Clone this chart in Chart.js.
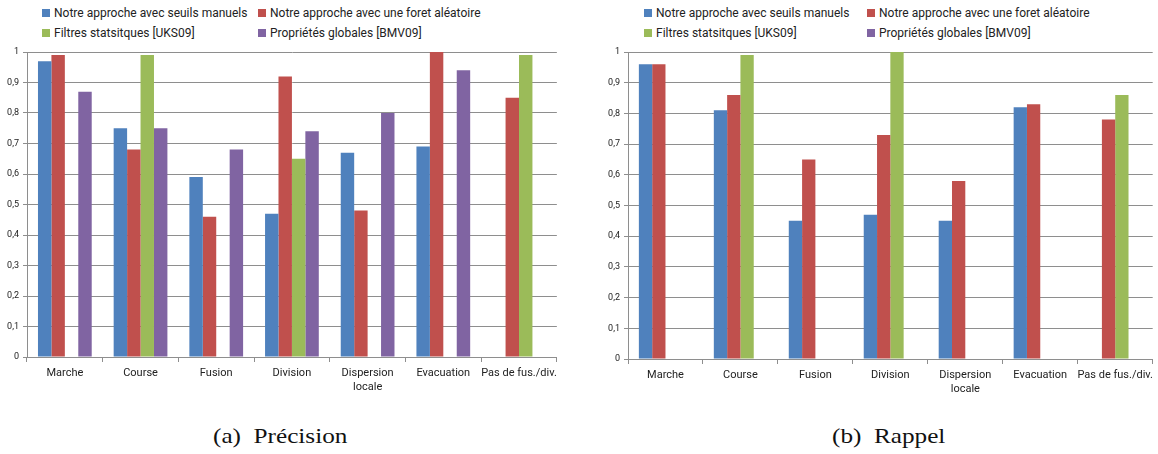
<!DOCTYPE html>
<html>
<head>
<meta charset="utf-8">
<script src="https://cdn.jsdelivr.net/npm/chart.js"></script>
<style>
  body { margin: 0; background: #fff; width: 1158px; height: 454px; position: relative; overflow: hidden; font-family: Roboto, sans-serif; }
  .box { position: absolute; }
  .legend { position: absolute; font-size: 12px; color: #222; }
  .item { position: absolute; white-space: nowrap; line-height: 14px; }
  .item span { display: inline-block; width: 8px; height: 8px; margin-right: 4px; vertical-align: 0px; }
  .caption { position: absolute; top: 424px; font-family: "Times New Roman", "Liberation Serif", Times, serif; font-size: 21px; color: #111; transform: scaleX(1.2); transform-origin: left top; white-space: nowrap; }
</style>
</head>
<body>
<div class="legend" id="legA"></div>
<div class="legend" id="legB"></div>
<div class="box" style="left:0px;top:40px;"><canvas id="chartA" width="562" height="360"></canvas></div>
<div class="box" style="left:590px;top:40px;"><canvas id="chartB" width="568" height="360"></canvas></div>
<div class="caption" style="left:213px;">(a)&nbsp; Précision</div>
<div class="caption" style="left:832px;">(b)&nbsp; Rappel</div>
<script>
// categories
const categories = ['Marche', 'Course', 'Fusion', 'Division', ['Dispersion', 'locale'], 'Evacuation', 'Pas de fus./div.'];
const seriesLabels = [
  'Notre approche avec seuils manuels',
  'Notre approche avec une foret aléatoire',
  'Filtres statsitques [UKS09]',
  'Propriétés globales [BMV09]'
];
const colors = ['#4F81BD', '#C0504D', '#9BBB59', '#8064A2'];

// (a) Précision
const precManuels = [0.97, 0.75, 0.59, 0.47, 0.67, 0.69, null];
const precForet   = [0.99, 0.68, 0.46, 0.92, 0.48, 1.00, 0.85];
const precUKS     = [null, 0.99, null, 0.65, null, null, 0.99];
const precBMV     = [0.87, 0.75, 0.68, 0.74, 0.80, 0.94, null];

// (b) Rappel
const rapManuels = [0.96, 0.81, 0.45, 0.47, 0.45, 0.82, null];
const rapForet   = [0.96, 0.86, 0.65, 0.73, 0.58, 0.83, 0.78];
const rapUKS     = [null, 0.99, null, 1.00, null, null, 0.86];
const rapBMV     = [null, null, null, null, null, null, null];

const yTicks = [0, 0.1, 0.2, 0.3, 0.4, 0.5, 0.6, 0.7, 0.8, 0.9, 1];

function legend(id, x1, x2) {
  const el = document.getElementById(id);
  const pos = [[x1, 6], [x2, 6], [x1, 26], [x2, 26]];
  seriesLabels.forEach((l, i) => {
    const d = document.createElement('div');
    d.className = 'item';
    d.style.left = pos[i][0] + 'px';
    d.style.top = pos[i][1] + 'px';
    d.innerHTML = '<span style="background:' + colors[i] + '"></span>' + l;
    el.appendChild(d);
  });
}
legend('legA', 42, 258);
legend('legB', 644, 867);

function makeChart(id, series, yWidth, xHeight, padTop, padRight) {
  const gridCol = '#8e8e8e';
  return new Chart(document.getElementById(id), {
    type: 'bar',
    data: {
      labels: categories,
      datasets: series.map((s, i) => ({
        label: seriesLabels[i],
        data: s,
        backgroundColor: colors[i],
        borderWidth: 0,
        categoryPercentage: 0.71,
        barPercentage: 1
      }))
    },
    options: {
      responsive: false,
      devicePixelRatio: 1,
      animation: false,
      layout: { padding: { top: padTop, right: padRight, left: 0, bottom: 0 } },
      plugins: { legend: { display: false }, tooltip: { enabled: false } },
      scales: {
        x: {
          grid: { drawOnChartArea: false, offset: true, tickLength: 5, color: gridCol },
          border: { color: gridCol },
          ticks: { font: { family: 'Roboto', size: 11 }, color: '#222', padding: 5, maxRotation: 0, autoSkip: false },
          afterFit: (s) => { s.height = xHeight; }
        },
        y: {
          min: 0, max: 1,
          afterBuildTicks: (s) => { s.ticks = yTicks.map(v => ({ value: v })); },
          grid: { color: gridCol, tickLength: 4 },
          border: { color: gridCol },
          ticks: {
            font: { family: 'Roboto', size: 9 }, color: '#222', padding: 4,
            callback: (v) => String(Math.round(v * 10) / 10).replace('.', ',')
          },
          afterFit: (s) => { s.width = yWidth; }
        }
      }
    }
  });
}

makeChart('chartA', [precManuels, precForet, precUKS, precBMV], 27, 43, 12, 3);
makeChart('chartB', [rapManuels, rapForet, rapUKS, rapBMV], 38, 41, 12, 0);
</script>
</body>
</html>
